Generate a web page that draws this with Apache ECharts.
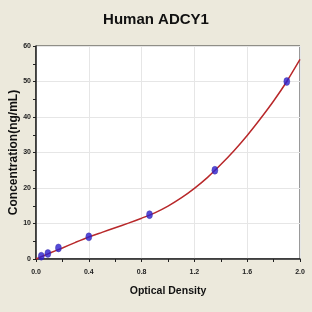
<!DOCTYPE html>
<html><head><meta charset="utf-8">
<script src="https://cdn.jsdelivr.net/npm/echarts@6/dist/echarts.min.js"></script>
<style>html,body{margin:0;padding:0;background:#ece9dc;}#c{width:312px;height:312px;}</style>
</head><body><div id="c"></div>
<script>
var pointX = [0.04, 0.09, 0.17, 0.40, 0.86, 1.355, 1.90];
var pointY = [0.78, 1.56, 3.12, 6.25, 12.5, 25, 50];
var curveX = [0.0, 0.1, 0.2, 0.3, 0.4, 0.5, 0.6, 0.7, 0.8, 0.9, 1.0, 1.1, 1.2, 1.3, 1.4, 1.5, 1.6, 1.7, 1.8, 1.9, 2.0];
var curveY = [0.0, 1.6, 3.1, 4.7, 6.2, 7.5, 8.8, 10.1, 11.5, 13.0, 14.9, 17.2, 19.9, 23.0, 26.6, 30.5, 34.8, 39.5, 44.5, 50.0, 56.2];
var xTicks = [0.0, 0.4, 0.8, 1.2, 1.6, 2.0];
var yTicks = [0, 10, 20, 30, 40, 50, 60];

var chart = echarts.init(document.getElementById('c'), null, {renderer:'canvas'});
var font = 'Arial, "Liberation Sans", sans-serif';
chart.setOption({
  backgroundColor: '#ece9dc',
  animation: false,
  title: {text: 'Human ADCY1', left: 'center', top: 7,
    textStyle: {fontFamily: font, fontSize: 15, fontWeight: 'bold', color: '#111'}},
  grid: {left: 36, right: 12, top: 46, bottom: 53, outerBoundsMode: 'none', containLabel: false,
    show: true, backgroundColor: '#fff', borderColor: '#333', borderWidth: 1},
  xAxis: {type: 'value', min: 0, max: 2.0, interval: 0.4,
    name: 'Optical Density', nameLocation: 'middle', nameGap: 27, nameMoveOverlap: false,
    nameTextStyle: {fontFamily: font, fontSize: 10.5, fontWeight: 'bold', color: '#111'},
    axisLine: {lineStyle: {color: '#222', width: 1.5}},
    axisTick: {show: true, length: 3, lineStyle: {color: '#222'}},
    minorTick: {show: true, splitNumber: 2, length: 3, lineStyle: {color: '#222'}},
    splitLine: {show: true, lineStyle: {color: '#e6e6e6'}},
    axisLabel: {fontFamily: font, fontSize: 7, fontWeight: 'bold', color: '#222', margin: 10,
      formatter: function(v){ return xTicks.indexOf(Math.round(v*10)/10) >= 0 ? v.toFixed(1) : ''; }}},
  yAxis: {type: 'value', min: 0, max: 60, interval: 10,
    name: 'Concentration(ng/mL)', nameLocation: 'middle', nameGap: 16, nameMoveOverlap: false,
    nameTextStyle: {fontFamily: font, fontSize: 12, fontWeight: 'bold', color: '#111'},
    axisLine: {show: true, lineStyle: {color: '#222', width: 1.5}},
    axisTick: {show: true, length: 3, lineStyle: {color: '#222'}},
    minorTick: {show: true, splitNumber: 2, length: 3, lineStyle: {color: '#222'}},
    splitLine: {show: true, lineStyle: {color: '#e6e6e6'}},
    axisLabel: {fontFamily: font, fontSize: 7, fontWeight: 'bold', color: '#222', margin: 5,
      formatter: function(v){ return yTicks.indexOf(v) >= 0 ? String(v) : ''; }}},
  series: [
    {type: 'line', data: curveX.map(function(x,i){return [x, curveY[i]];}), smooth: 0.2,
     showSymbol: false, lineStyle: {color: '#b8282a', width: 1.5}, z: 2},
    {type: 'scatter', data: pointX.map(function(x,i){return [x, pointY[i]];}),
     symbol: 'circle', symbolSize: [6, 8], itemStyle: {color: '#2a1fd0', borderColor: '#3a2aa0', borderWidth: 0.5}, z: 3}
  ]
});
</script></body></html>
